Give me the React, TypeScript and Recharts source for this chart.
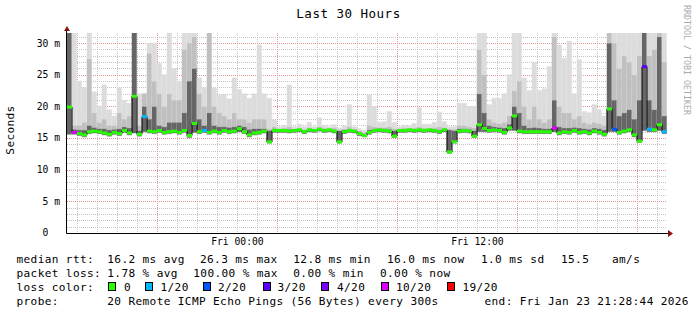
import { Bar, CartesianGrid, ComposedChart, Line, XAxis, YAxis } from "recharts"

const W = 697
const H = 315
const PLOT = { left: 67, top: 33, right: 667, bottom: 233 }
const FONT = '"DejaVu Sans Mono", monospace'
const Y_MAX = 31.6
const HOURS = 30

// 120 slots of 15 min, Thu 15:28 -> Fri 21:28 (values in ms)
const median = [
  19.9, 15.9, 15.7, 15.5, 16.0, 16.1, 16.0, 15.8, 15.6, 15.9,
  15.7, 16.2, 15.8, 21.6, 15.6, 18.4, 16.1, 16.0, 16.2, 15.9,
  16.0, 16.1, 15.9, 16.2, 15.4, 17.3, 16.0, 16.2, 15.9, 16.1,
  15.9, 16.2, 16.0, 16.1, 16.5, 16.0, 15.5, 15.8, 15.9, 16.1,
  14.4, 16.2, 16.2, 16.2, 16.1, 16.2, 16.3, 16.0, 16.3, 16.2,
  16.4, 16.2, 16.3, 16.1, 14.4, 16.0, 16.2, 16.1, 15.7, 15.4,
  15.9, 16.2, 16.3, 16.2, 16.1, 15.3, 16.2, 16.2, 16.3, 16.2,
  16.3, 16.2, 16.3, 16.2, 16.0, 16.3, 12.8, 14.4, 16.1, 16.2,
  16.1, 15.3, 17.1, 16.5, 16.2, 16.3, 16.2, 15.9, 16.6, 18.5,
  16.1, 16.0, 16.0, 16.0, 16.0, 16.0, 16.0, 16.6, 15.8, 16.0,
  15.9, 16.2, 15.9, 16.0, 15.8, 16.1, 15.9, 15.6, 19.6, 16.4,
  15.9, 16.1, 16.3, 15.5, 14.5, 26.3, 16.4, 16.3, 17.1, 16.0,
]

// fastest ping of each slot
const smokeLow = [
  15.6, 15.6, 15.4, 15.2, 15.7, 15.8, 15.7, 15.5, 15.3, 15.6,
  15.4, 15.9, 15.5, 15.8, 15.3, 16.0, 15.8, 15.7, 15.9, 15.6,
  15.7, 15.8, 15.6, 15.9, 15.1, 15.9, 15.7, 15.9, 15.6, 15.8,
  15.6, 15.9, 15.7, 15.8, 16.0, 15.7, 15.2, 15.5, 15.6, 15.8,
  14.2, 15.9, 15.9, 15.9, 15.8, 15.9, 16.0, 15.7, 16.0, 15.9,
  16.1, 15.9, 16.0, 15.8, 14.2, 15.7, 15.9, 15.8, 15.4, 15.2,
  15.6, 15.9, 16.0, 15.9, 15.8, 15.1, 15.9, 15.9, 16.0, 15.9,
  16.0, 15.9, 16.0, 15.9, 15.7, 16.0, 12.6, 14.2, 15.8, 15.9,
  15.8, 15.1, 16.0, 16.0, 15.9, 16.0, 15.9, 15.6, 16.2, 16.2,
  15.8, 15.7, 15.7, 15.7, 15.7, 15.7, 15.7, 16.0, 15.5, 15.7,
  15.6, 15.9, 15.6, 15.7, 15.5, 15.8, 15.6, 15.3, 16.0, 16.0,
  15.6, 15.8, 16.0, 15.2, 14.3, 16.2, 16.0, 16.0, 16.2, 15.7,
]

const smokeDark = [
  31.6, 16.4, 16.3, 16.3, 17.0, 16.7, 16.5, 16.5, 16.3, 16.4,
  16.5, 16.8, 16.6, 31.6, 16.2, 20.0, 18.0, 20.0, 17.0, 16.8,
  17.5, 17.5, 17.5, 19.0, 24.0, 26.0, 18.0, 17.0, 19.0, 17.0,
  16.8, 16.8, 16.7, 16.8, 17.0, 16.8, 16.4, 16.5, 16.5, 16.5,
  16.2, 16.5, 16.4, 16.4, 16.4, 16.4, 16.5, 16.2, 16.5, 16.4,
  16.6, 16.4, 16.4, 16.3, 16.2, 16.3, 16.4, 16.3, 16.0, 15.7,
  16.3, 16.5, 16.5, 16.5, 16.4, 16.2, 16.4, 16.4, 16.5, 16.4,
  16.5, 16.4, 16.5, 16.4, 16.3, 16.5, 16.3, 16.2, 16.5, 16.5,
  16.4, 16.2, 22.0, 19.0, 17.0, 16.8, 16.7, 16.6, 17.2, 20.0,
  19.0, 17.0, 16.6, 16.7, 16.6, 16.5, 16.5, 21.0, 16.8, 16.6,
  16.6, 16.7, 16.6, 16.5, 16.4, 16.6, 16.5, 16.3, 30.0, 21.0,
  18.5, 19.0, 19.5, 18.0, 21.0, 31.6, 21.0, 19.5, 31.0, 18.5,
]

const smokeMid = [
  31.6, 17.0, 17.0, 17.5, 27.5, 19.0, 17.5, 18.0, 17.0, 17.0,
  19.0, 18.0, 18.5, 31.6, 17.0, 22.0, 28.4, 24.0, 22.0, 20.0,
  22.0, 21.0, 21.0, 29.0, 30.0, 31.0, 22.0, 20.0, 31.6, 20.0,
  19.0, 18.5, 18.0, 19.0, 18.0, 18.0, 17.5, 18.0, 18.0, 18.0,
  16.5, 16.8, 16.5, 16.6, 16.8, 16.5, 16.6, 16.4, 16.7, 16.5,
  16.8, 16.6, 16.5, 16.6, 16.3, 16.5, 16.8, 16.5, 16.2, 15.9,
  17.0, 16.8, 16.7, 16.7, 16.8, 16.5, 16.5, 16.6, 16.6, 16.6,
  16.8, 16.6, 16.6, 16.7, 16.8, 16.7, 16.5, 16.4, 17.0, 17.0,
  16.8, 16.6, 29.0, 25.0, 18.0, 17.5, 17.3, 17.5, 18.5, 22.5,
  24.0, 20.0, 18.0, 20.0, 18.0, 17.5, 18.0, 31.0, 20.0, 19.0,
  19.0, 18.0, 18.5, 17.5, 17.2, 17.5, 17.3, 17.0, 31.6, 30.0,
  26.0, 28.0, 27.0, 25.0, 28.0, 31.6, 28.0, 29.0, 31.6, 27.0,
]

const smokeHigh = [
  31.6, 31.6, 24.0, 23.0, 31.6, 22.3, 20.0, 23.4, 19.5, 18.5,
  23.0, 21.0, 20.5, 31.6, 22.0, 22.1, 30.0, 30.0, 26.8, 25.0,
  31.6, 26.0, 24.0, 31.6, 31.6, 31.6, 24.5, 23.0, 31.6, 22.9,
  21.8, 21.9, 21.2, 24.5, 22.7, 22.0, 21.3, 22.0, 29.7, 22.0,
  21.3, 17.9, 16.8, 17.0, 23.4, 16.8, 17.2, 16.8, 17.5, 16.8,
  18.2, 17.0, 16.8, 17.1, 16.6, 16.9, 20.3, 16.8, 16.5, 16.2,
  21.8, 20.0, 17.5, 17.6, 19.2, 17.5, 16.8, 17.0, 16.9, 17.3,
  19.8, 17.2, 17.2, 17.5, 19.1, 17.6, 16.8, 16.8, 20.5, 20.5,
  20.0, 20.0, 31.6, 31.6, 20.3, 21.3, 21.3, 22.0, 25.0, 31.6,
  31.6, 24.5, 22.5, 27.0, 22.5, 22.8, 26.3, 31.6, 29.7, 27.6,
  30.3, 22.0, 27.4, 19.2, 19.0, 20.3, 19.5, 18.5, 31.6, 31.6,
  31.6, 31.6, 31.6, 31.6, 31.6, 31.6, 31.6, 31.6, 31.6, 31.6,
]

// lost pings out of 20
const lossCount = [
  0, 10, 0, 0, 0, 0, 0, 0, 0, 0,
  0, 0, 0, 0, 0, 1, 0, 0, 0, 0,
  0, 0, 0, 0, 0, 0, 0, 1, 0, 0,
  0, 0, 0, 0, 0, 0, 0, 0, 0, 0,
  0, 0, 0, 0, 0, 0, 0, 0, 0, 0,
  0, 0, 0, 0, 0, 0, 0, 0, 0, 0,
  0, 0, 0, 0, 0, 0, 0, 0, 0, 0,
  0, 0, 0, 0, 0, 0, 0, 0, 0, 0,
  0, 0, 0, 0, 0, 0, 0, 0, 0, 0,
  0, 0, 0, 0, 0, 0, 0, 10, 0, 0,
  0, 0, 0, 0, 0, 0, 0, 0, 0, 2,
  0, 0, 0, 0, 0, 3, 1, 0, 0, 1,
]

const lossColors: Record<number, string> = {
  0: "#26ff00",
  1: "#00b8ff",
  2: "#0059ff",
  3: "#5e00ff",
  4: "#7e00ff",
  10: "#dd00ff",
  19: "#ff0000",
}
const lossLegend = [
  { loss: 0, label: "0", box: 108.5, text: 124 },
  { loss: 1, label: "1/20", box: 145.5, text: 160.5 },
  { loss: 2, label: "2/20", box: 203.5, text: 218 },
  { loss: 3, label: "3/20", box: 263.5, text: 277.5 },
  { loss: 4, label: "4/20", box: 321.5, text: 337 },
  { loss: 10, label: "10/20", box: 381.5, text: 396 },
  { loss: 19, label: "19/20", box: 447.5, text: 462.5 },
]

const yTicks = [0, 5, 10, 15, 20, 25, 30]
const yTickLabels = ["0  ", "5 m", "10 m", "15 m", "20 m", "25 m", "30 m"]
// hours since start of window (Thu 15:28:44)
const timeTicks = [8.521, 20.521]
const timeTickLabels = ["Fri 00:00", "Fri 12:00"]
const firstHour = 0.521

const slotHours = median.map((_, i) => (i + 0.5) * (HOURS / median.length))

// grid in pixels
const xPx = (h: number) => Math.round(PLOT.left + (h / HOURS) * (PLOT.right - PLOT.left)) + 0.5
const yPx = (v: number) => Math.round(PLOT.bottom - (v / Y_MAX) * (PLOT.bottom - PLOT.top)) + 0.5
const hours = Array.from({ length: HOURS }, (_, k) => firstHour + k)
const minorX = hours.filter((_, k) => (k + 2) % 6 !== 0).map(xPx)
const majorX = hours.filter((_, k) => (k + 2) % 6 === 0).map(xPx)
const minorY = Array.from({ length: 31 }, (_, k) => k + 1).filter((v) => v % 5 !== 0).map(yPx)
const majorY = [5, 10, 15, 20, 25, 30].map(yPx)

const legendRows = [
  {
    y: 263,
    items: [
      [16.5, "median rtt:"],
      [107.3, "16.2 ms avg"],
      [200, "26.3 ms max"],
      [293.3, "12.8 ms min"],
      [387, "16.0 ms now"],
      [481, "1.0 ms sd"],
      [561, "15.5"],
      [612, "am/s"],
    ],
  },
  {
    y: 277,
    items: [
      [16.5, "packet loss:"],
      [107.3, "1.78 % avg"],
      [193.3, "100.00 % max"],
      [293.3, "0.00 % min"],
      [380, "0.00 % now"],
    ],
  },
  { y: 290.7, items: [[16.5, "loss color:"]] },
  {
    y: 305,
    items: [
      [16.5, "probe:"],
      [107.3, "20 Remote ICMP Echo Pings (56 Bytes) every 300s"],
      [484.5, "end: Fri Jan 23 21:28:44 2026"],
    ],
  },
]

const rows = median.map((m, i) => ({
  t: slotHours[i],
  base: smokeLow[i],
  dark: Math.max(0, smokeDark[i] - smokeLow[i]),
  mid: Math.max(0, smokeMid[i] - smokeDark[i]),
  light: Math.max(0, smokeHigh[i] - smokeMid[i]),
  med: m,
  loss: lossCount[i],
}))

const band = (PLOT.right - PLOT.left) / median.length

const MedianDot = (props: any) => {
  const { cx, cy, index, payload } = props
  if (cx == null || cy == null) return <g key={`m${index}`} />
  return (
    <rect
      key={`m${index}`}
      x={cx - band / 2}
      y={cy - 1.5}
      width={band}
      height={3}
      fill={lossColors[payload.loss] ?? lossColors[0]}
    />
  )
}

const YTick = ({ x, y, payload }: any) => (
  <text
    x={x}
    y={y}
    dy="0.35em"
    textAnchor="end"
    fontFamily={FONT}
    fontSize={9.7}
    fill="#000"
    xmlSpace="preserve"
    style={{ whiteSpace: "pre" }}
  >
    {yTickLabels[yTicks.indexOf(payload.value)]}
  </text>
)

const XTick = ({ x, y, payload }: any) => (
  <text x={x} y={y} dy="0.71em" textAnchor="middle" fontFamily={FONT} fontSize={9.7} fill="#000">
    {timeTickLabels[timeTicks.indexOf(payload.value)]}
  </text>
)

function Decorations() {
  const arrow = "#8c1010"
  return (
    <svg
      width={W}
      height={H}
      style={{ position: "absolute", left: 0, top: 0, pointerEvents: "none" }}
      fontFamily={FONT}
    >
      <text x={W / 2} y={18} textAnchor="middle" fontSize={12.5} letterSpacing={0.5} fill="#000">
        Last 30 Hours
      </text>
      <text x={14} y={130} transform="rotate(-90 14 130)" textAnchor="middle" fontSize={11.1} letterSpacing={0.37} fill="#000">
        Seconds
      </text>
      <text x={684} y={5} transform="rotate(90 684 5)" fontSize={8.3} fill="#aaaaaa">
        RRDTOOL / TOBI OETIKER
      </text>

      <line x1={66.5} y1={PLOT.bottom + 0.5} x2={66.5} y2={29} stroke="#000" />
      <polygon points="64,31 70,31 67,26" fill={arrow} />
      <line x1={66.5} y1={PLOT.bottom + 0.5} x2={669} y2={PLOT.bottom + 0.5} stroke="#000" />
      <polygon points="668,230 668,237 673,233.5" fill={arrow} />

      {legendRows.map((row) =>
        row.items.map(([x, t]) => (
          <text key={`${row.y}-${x}`} x={x as number} y={row.y} fontSize={11.1} letterSpacing={0.37} fill="#000">
            {t}
          </text>
        ))
      )}
      {lossLegend.map((l) => (
        <g key={l.label}>
          <rect x={l.box} y={282.5} width={7} height={8} fill={lossColors[l.loss]} stroke="#000" />
          <text x={l.text} y={290.7} fontSize={11.1} letterSpacing={0.37} fill="#000">
            {l.label}
          </text>
        </g>
      ))}
    </svg>
  )
}

const smokeDarkColor = "#666666"
const smokeMidColor = "#c0c0c0"
const smokeLightColor = "#dcdcdc"

export default function App() {
  // bars a hair wider than the slot so neighbours overlap instead of leaving seams
  const barW = band + 0.6
  return (
    <div style={{ position: "absolute", left: 0, top: 0, width: W, height: H, background: "#fff" }}>
      <ComposedChart
        width={W}
        height={H}
        data={rows}
        margin={{ top: PLOT.top, right: W - PLOT.right, bottom: H - PLOT.bottom - 20, left: 0 }}
        barCategoryGap={0}
        barGap={0}
      >
        <CartesianGrid
          horizontalPoints={minorY}
          verticalPoints={minorX}
          stroke="#c4c4c4"
          strokeDasharray="1 1"
        />
        <CartesianGrid
          horizontalPoints={majorY}
          verticalPoints={majorX}
          stroke="#e49494"
          strokeDasharray="1 1"
        />
        <XAxis
          dataKey="t"
          type="number"
          domain={[0, HOURS]}
          ticks={timeTicks}
          tick={<XTick />}
          tickLine={false}
          axisLine={false}
          tickSize={3}
          tickMargin={2}
          height={20}
          allowDataOverflow
        />
        <YAxis
          type="number"
          domain={[0, Y_MAX]}
          ticks={yTicks}
          tick={<YTick />}
          tickLine={false}
          axisLine={false}
          tickSize={4}
          tickMargin={3}
          width={PLOT.left}
          allowDataOverflow
        />
        <Bar dataKey="base" stackId="s" fill="transparent" barSize={barW} isAnimationActive={false} />
        <Bar dataKey="dark" stackId="s" fill={smokeDarkColor} stroke={smokeDarkColor} strokeWidth={0.5} barSize={barW} isAnimationActive={false} />
        <Bar dataKey="mid" stackId="s" fill={smokeMidColor} stroke={smokeMidColor} strokeWidth={0.5} barSize={barW} isAnimationActive={false} />
        <Bar dataKey="light" stackId="s" fill={smokeLightColor} stroke={smokeLightColor} strokeWidth={0.5} barSize={barW} isAnimationActive={false} />
        <Line
          dataKey="med"
          type="step"
          stroke="#000"
          strokeWidth={1}
          dot={(p: any) => <MedianDot {...p} key={`m${p.index}`} />}
          activeDot={false}
          isAnimationActive={false}
        />
      </ComposedChart>
      <Decorations />
    </div>
  )
}
